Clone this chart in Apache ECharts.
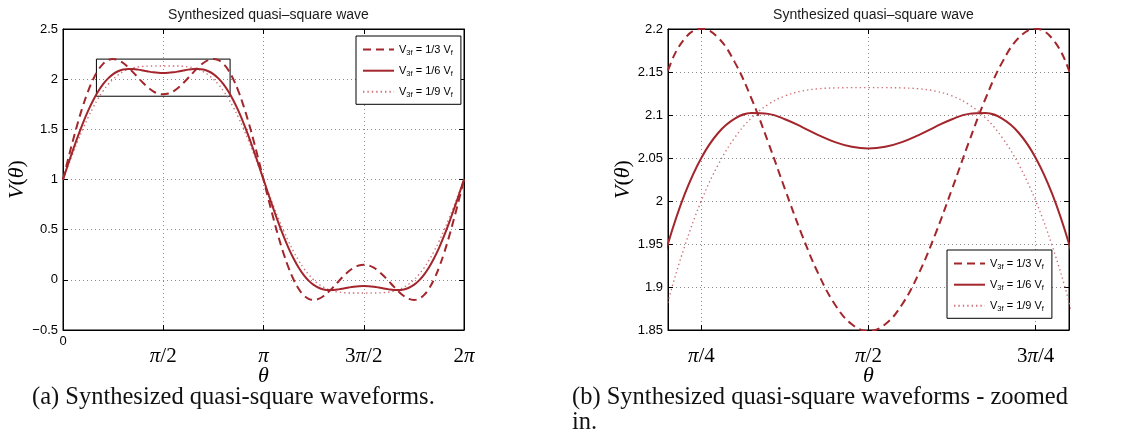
<!DOCTYPE html>
<html><head><meta charset="utf-8">
<script src="https://cdn.jsdelivr.net/npm/echarts@6/dist/echarts.min.js"></script>
<style>html,body{margin:0;padding:0;background:#fff}#c{width:1123px;height:442px}</style>
</head><body><div id="c"></div>
<script>
// theta in degrees (axis labels show multiples of pi)
const theta = [0,4.5,9,13.5,18,22.5,27,31.5,36,40.5,45,49.5,54,58.5,63,67.5,72,76.5,81,85.5,90,94.5,99,103.5,108,112.5,117,121.5,126,130.5,135,139.5,144,148.5,153,157.5,162,166.5,171,175.5,180,184.5,189,193.5,198,202.5,207,211.5,216,220.5,225,229.5,234,238.5,243,247.5,252,256.5,261,265.5,270,274.5,279,283.5,288,292.5,297,301.5,306,310.5,315,319.5,324,328.5,333,337.5,342,346.5,351,355.5,360];
const v13 = [1.0000,1.1990,1.3918,1.5729,1.7368,1.8794,1.9972,2.0884,2.1520,2.1888,2.2004,2.1899,2.1612,2.1189,2.0681,2.0139,1.9615,1.9153,1.8794,1.8566,1.8488,1.8566,1.8794,1.9153,1.9615,2.0139,2.0681,2.1189,2.1612,2.1899,2.2004,2.1888,2.1520,2.0884,1.9972,1.8794,1.7368,1.5729,1.3918,1.1990,1.0000,0.8010,0.6082,0.4271,0.2632,0.1206,0.0028,-0.0884,-0.1520,-0.1888,-0.2004,-0.1899,-0.1612,-0.1189,-0.0681,-0.0139,0.0385,0.0847,0.1206,0.1434,0.1512,0.1434,0.1206,0.0847,0.0385,-0.0139,-0.0681,-0.1189,-0.1612,-0.1899,-0.2004,-0.1888,-0.1520,-0.0884,0.0028,0.1206,0.2632,0.4271,0.6082,0.8010,1.0000];
const v16 = [1.0000,1.1494,1.2955,1.4351,1.5651,1.6833,1.7876,1.8768,1.9502,2.0079,2.0504,2.0791,2.0957,2.1023,2.1013,2.0951,2.0862,2.0767,2.0685,2.0630,2.0610,2.0630,2.0685,2.0767,2.0862,2.0951,2.1013,2.1023,2.0957,2.0791,2.0504,2.0079,1.9502,1.8768,1.7876,1.6833,1.5651,1.4351,1.2955,1.1494,1.0000,0.8506,0.7045,0.5649,0.4349,0.3167,0.2124,0.1232,0.0498,-0.0079,-0.0504,-0.0791,-0.0957,-0.1023,-0.1013,-0.0951,-0.0862,-0.0767,-0.0685,-0.0630,-0.0610,-0.0630,-0.0685,-0.0767,-0.0862,-0.0951,-0.1013,-0.1023,-0.0957,-0.0791,-0.0504,-0.0079,0.0498,0.1232,0.2124,0.3167,0.4349,0.5649,0.7045,0.8506,1.0000];
const v19 = [1.0000,1.1329,1.2634,1.3891,1.5079,1.6179,1.7178,1.8063,1.8829,1.9475,2.0004,2.0421,2.0738,2.0967,2.1123,2.1222,2.1278,2.1305,2.1315,2.1318,2.1318,2.1318,2.1315,2.1305,2.1278,2.1222,2.1123,2.0967,2.0738,2.0421,2.0004,1.9475,1.8829,1.8063,1.7178,1.6179,1.5079,1.3891,1.2634,1.1329,1.0000,0.8671,0.7366,0.6109,0.4921,0.3821,0.2822,0.1937,0.1171,0.0525,-0.0004,-0.0421,-0.0738,-0.0967,-0.1123,-0.1222,-0.1278,-0.1305,-0.1315,-0.1318,-0.1318,-0.1318,-0.1315,-0.1305,-0.1278,-0.1222,-0.1123,-0.0967,-0.0738,-0.0421,-0.0004,0.0525,0.1171,0.1937,0.2822,0.3821,0.4921,0.6109,0.7366,0.8671,1.0000];
const seriesNames = ['1/3', '1/6', '1/9'];
const xTickValsA = [0, 90, 180, 270, 360];
const xTickLabsA = ['0', 'π/2', 'π', '3π/2', '2π'];
const xTickValsB = [45, 90, 135];
const xTickLabsB = ['π/4', 'π/2', '3π/4'];
const zoomBox = [30, 150, 1.83, 2.2]; // x0, x1, y0, y1 of the zoom rectangle in panel (a)

const RED = '#a3262c', DOT = '#cf727a';
const styles = [
  {color: RED, width: 2, type: [8, 5]},
  {color: RED, width: 2, type: 'solid'},
  {color: DOT, width: 1.4, type: [1.4, 3]}
];
const vals = [v13, v16, v19];
const zip = v => theta.map((t, i) => [t, v[i]]);

function piRich(s) {
  if (s === '0') return '{z|0}';
  return s.split(/(π)/).filter(Boolean).map(t => t === 'π' ? '{pi|π}' : '{p|' + t + '}').join('');
}
const xRich = {
  z: {fontFamily: 'Liberation Sans', fontSize: 13, lineHeight: 13, color: '#000'},
  p: {fontFamily: 'Liberation Serif', fontSize: 21, lineHeight: 42, color: '#000'},
  pi: {fontFamily: 'Liberation Serif', fontStyle: 'italic', fontSize: 21, lineHeight: 42, color: '#000'}
};
const gridLine = {show: true, lineStyle: {color: '#8a8a8a', width: 1, type: [1, 3]}};
const tick = {show: true, inside: true, length: 5, lineStyle: {color: '#000'}};
const axLine = {show: true, onZero: false, lineStyle: {color: '#000', width: 1}};
const yLab = {color: '#000', fontFamily: 'Liberation Sans', fontSize: 13, margin: 5};
const yName = '{i|V}{r|(}{i|θ}{r|)}';
const yNameStyle = {rich: {
  i: {fontFamily: 'Liberation Serif', fontStyle: 'italic', fontSize: 22, color: '#000'},
  r: {fontFamily: 'Liberation Serif', fontSize: 22, color: '#000'}
}};
const xNameStyle = {fontFamily: 'Liberation Serif', fontStyle: 'italic', fontSize: 22, color: '#000'};

function mkLegend(left, top) {
  return {
    orient: 'vertical', left: left, top: top, data: seriesNames,
    itemWidth: 31, itemHeight: 14, itemGap: 8,
    padding: [8, 8, 5, 6], borderColor: '#000', borderWidth: 1, backgroundColor: '#fff',
    itemStyle: {opacity: 0},
    formatter: n => '{n|V}{s|3f}{n| = ' + n + ' V}{s|f}',
    textStyle: {rich: {
      n: {fontFamily: 'Liberation Sans', fontSize: 11, lineHeight: 15, color: '#000'},
      s: {fontFamily: 'Liberation Sans', fontSize: 7.5, lineHeight: 8, verticalAlign: 'bottom', color: '#000'}
    }}
  };
}

const series = [];
[0, 1].forEach(g => {
  seriesNames.forEach((n, k) => {
    const s = {
      name: n, type: 'line', xAxisIndex: g * 2, yAxisIndex: g * 2,
      data: zip(vals[k]), symbol: 'none', smooth: 0.4, clip: true,
      lineStyle: styles[k], itemStyle: {color: styles[k].color}, z: 3 - k
    };
    if (g === 0 && k === 0) {
      s.markArea = {silent: true, label: {show: false},
        itemStyle: {color: 'rgba(0,0,0,0)', borderColor: '#000', borderWidth: 1},
        data: [[{coord: [zoomBox[0], zoomBox[3]]}, {coord: [zoomBox[1], zoomBox[2]]}]]};
    }
    series.push(s);
  });
});

const titleStyle = {fontFamily: 'Liberation Sans', fontSize: 14, fontWeight: 'normal', color: '#1a1a1a'};
const option = {
  animation: false,
  backgroundColor: '#fff',
  title: [
    {text: 'Synthesized quasi–square wave', left: 263.5, top: 3, textAlign: 'center', textStyle: titleStyle},
    {text: 'Synthesized quasi–square wave', left: 868.5, top: 3, textAlign: 'center', textStyle: titleStyle}
  ],
  legend: [mkLegend(356, 36), mkLegend(947, 250)],
  grid: [
    {left: 63, top: 29, width: 401, height: 301, show: true, borderColor: '#000', borderWidth: 1, backgroundColor: '#fff'},
    {left: 668, top: 29, width: 401, height: 301, show: true, borderColor: '#000', borderWidth: 1, backgroundColor: '#fff'}
  ],
  xAxis: [
    {type: 'value', gridIndex: 0, min: 0, max: 360, interval: 90, position: 'bottom',
     axisLine: axLine, axisTick: tick, splitLine: gridLine,
     axisLabel: {margin: 5, formatter: v => piRich(xTickLabsA[xTickValsA.indexOf(v)] || ''), rich: xRich},
     name: 'θ', nameLocation: 'middle', nameGap: 35, nameMoveOverlap: false, nameTextStyle: xNameStyle},
    {type: 'value', gridIndex: 0, min: 0, max: 360, interval: 90, position: 'top',
     axisLine: axLine, axisTick: tick, splitLine: {show: false}, axisLabel: {show: false}},
    {type: 'value', gridIndex: 1, min: 36, max: 144, position: 'bottom',
     axisLine: axLine, axisTick: Object.assign({customValues: xTickValsB}, tick), splitLine: gridLine,
     axisLabel: {margin: 5, customValues: xTickValsB, formatter: v => piRich(xTickLabsB[xTickValsB.indexOf(v)] || ''), rich: xRich},
     name: 'θ', nameLocation: 'middle', nameGap: 35, nameMoveOverlap: false, nameTextStyle: xNameStyle},
    {type: 'value', gridIndex: 1, min: 36, max: 144, position: 'top',
     axisLine: axLine, axisTick: Object.assign({customValues: xTickValsB}, tick), splitLine: {show: false}, axisLabel: {show: false}}
  ],
  yAxis: [
    {type: 'value', gridIndex: 0, min: -0.5, max: 2.5, interval: 0.5, position: 'left',
     axisLine: axLine, axisTick: tick, splitLine: gridLine,
     axisLabel: Object.assign({formatter: v => String(+v.toFixed(2)).replace('-', '−')}, yLab),
     name: yName, nameLocation: 'middle', nameGap: 30, nameTextStyle: yNameStyle},
    {type: 'value', gridIndex: 0, min: -0.5, max: 2.5, interval: 0.5, position: 'right',
     axisLine: axLine, axisTick: tick, splitLine: {show: false}, axisLabel: {show: false}},
    {type: 'value', gridIndex: 1, min: 1.85, max: 2.2, interval: 0.05, position: 'left',
     axisLine: axLine, axisTick: tick, splitLine: gridLine,
     axisLabel: Object.assign({formatter: v => String(+v.toFixed(2))}, yLab),
     name: yName, nameLocation: 'middle', nameGap: 30, nameTextStyle: yNameStyle},
    {type: 'value', gridIndex: 1, min: 1.85, max: 2.2, interval: 0.05, position: 'right',
     axisLine: axLine, axisTick: tick, splitLine: {show: false}, axisLabel: {show: false}}
  ],
  series: series,
  graphic: [
    {type: 'text', left: 32, top: 385, style: {text: '(a) Synthesized quasi-square waveforms.', font: '24.5px "Liberation Serif"', fill: '#111'}},
    {type: 'text', left: 572, top: 385, style: {text: '(b) Synthesized quasi-square waveforms - zoomed\nin.', font: '24.5px "Liberation Serif"', lineHeight: 25, fill: '#111'}}
  ]
};
const chart = echarts.init(document.getElementById('c'), null, {renderer: 'canvas'});
chart.setOption(option);
</script>
</body></html>
